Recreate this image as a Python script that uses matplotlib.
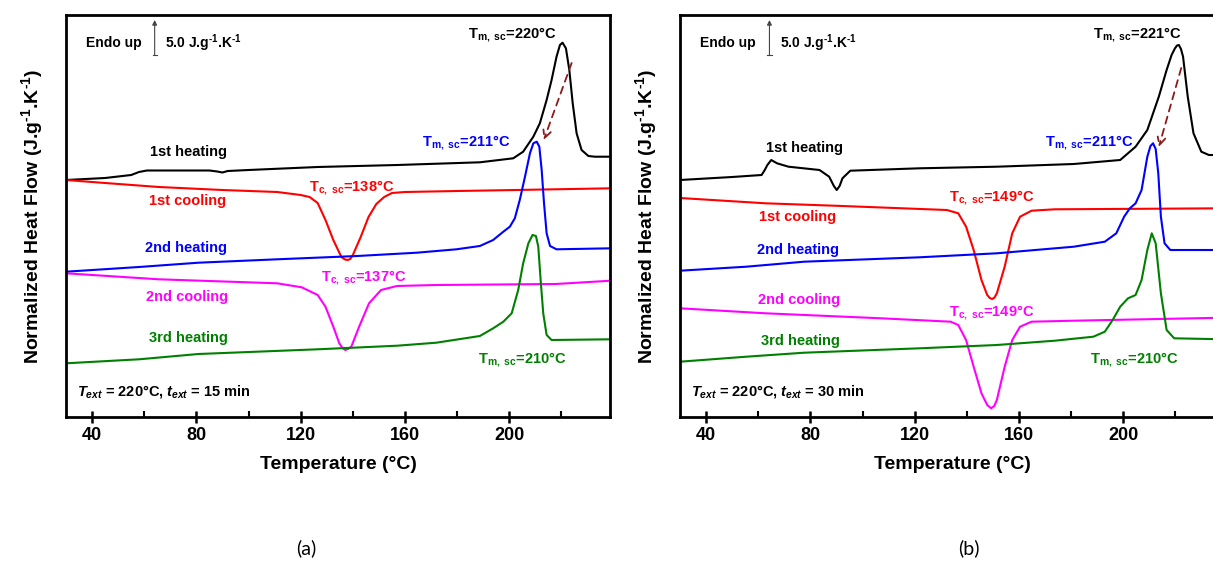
import matplotlib
matplotlib.use("Agg")
import matplotlib.pyplot as plt
from matplotlib.ticker import MultipleLocator

plt.rcParams['font.family'] = ['Liberation Sans', 'DejaVu Sans']
plt.rcParams['font.weight'] = 'bold'
plt.rcParams['mathtext.fontset'] = 'custom'
plt.rcParams['mathtext.rm'] = 'Liberation Sans:bold'
plt.rcParams['mathtext.bf'] = 'Liberation Sans:bold'
plt.rcParams['mathtext.it'] = 'Liberation Sans:italic:bold'
plt.rcParams['mathtext.default'] = 'rm'

# ---------------- data (temperature in °C, heat flow in arbitrary offset units) -------------
a_h1_T = [30, 45, 55, 58, 61, 70, 85, 88, 90, 92, 100, 126.5, 157, 188.7, 201.5, 205.3, 209.2, 211.7, 214.3,
          216.2, 218.1, 219.4, 220.4, 221.7, 223, 224.3, 225.8, 227.7, 230.3, 232.8, 239]
a_h1_y = [237, 239, 242, 245, 246.5, 246.5, 246.5, 245.5, 244.5, 246, 247, 250, 252, 254.7, 258.7, 265.3, 280.3,
          293.7, 317, 337, 360.3, 372, 374.3, 368.7, 347, 313.7, 283.7, 267, 261, 260.3, 260.3]

a_c1_T = [30, 45, 65.6, 90, 111, 120, 123.4, 126.5, 129.5, 132.5, 135.6, 137, 138, 139, 140, 143, 146, 149,
          152, 155, 160, 180, 202.5, 239]
a_c1_y = [237, 234, 230, 227, 225, 222, 220, 214, 197, 177, 160, 157.5, 157, 158, 162, 180, 200, 213,
          220, 224, 225, 226, 227, 228.7]

a_h2_T = [30, 58, 80.8, 111, 141.7, 164.5, 179.7, 188.7, 193.8, 197.7, 200.2, 202.1, 204, 206, 207.9, 209.2,
          210.5, 211.5, 212.4, 213.3, 214.3, 215.6, 218.1, 239]
a_h2_y = [145.3, 150, 154.3, 157.7, 161, 164.3, 167.7, 171, 177, 185.3, 190.3, 198.7, 217, 240.3, 263.7, 273.7,
          275.3, 270.3, 247, 213.7, 183.7, 171, 167.7, 168.7]

a_c2_T = [30, 65.6, 111, 120.4, 126.5, 129.5, 132.5, 134.8, 136, 137.1, 138.2, 139.4, 142.4, 146.2, 150.8,
          156.9, 172, 217.8, 239]
a_c2_y = [143.7, 137.7, 133.7, 129.7, 122, 110.3, 90.3, 73.7, 69, 67, 68, 70.3, 90.3, 113.7, 127,
          131, 132, 133, 136.3]

a_h3_T = [30, 58, 80.8, 126.5, 157, 172, 188.7, 193.8, 197.7, 200.9, 203.4, 205.3, 207.3, 208.9, 210.2, 211.1,
          212, 213, 214.3, 216.2, 239]
a_h3_y = [53.7, 57.7, 63, 67.7, 71.3, 74.3, 81, 88.7, 95.3, 103.7, 127, 153.7, 173.7, 182, 181, 170.3,
          137, 103.7, 82, 77, 77.7]

b_h1_T = [30, 50, 61.3, 62.5, 63.5, 65, 67.2, 71.6, 83.5, 87.2, 89, 90.1, 91.2, 92.3, 95.3, 121.9, 151.5,
          181, 198.8, 204.7, 209.2, 213.6, 216.6, 218.5, 219.8, 220.6, 221.3, 222.1, 222.9, 224.7, 226.9, 229.9,
          232.8, 235.5, 238.6]
b_h1_y = [237, 240, 242, 247, 252, 257, 253.7, 250.3, 247, 240.3, 231, 227, 231, 238.7, 246.3, 248.7, 250.3,
          253, 257, 270.3, 287, 320.3, 347, 362, 368.7, 371.5, 372, 368, 360.3, 320.3, 283.7, 265.3,
          262, 262, 262]

b_c1_T = [30, 62.8, 92.3, 132.3, 136.7, 139.7, 142.6, 145.6, 147.8, 148.8, 149.7, 150.6, 151.5, 154.5, 157.4,
          160.4, 164.8, 173.7, 238.6]
b_c1_y = [219, 213.7, 211, 207, 203.7, 190.3, 167, 137, 122, 119, 118, 119.5, 123.7, 150.3, 183.7,
          200.3, 206.3, 207.7, 208.7]

b_h2_T = [30, 55.4, 77.6, 121.9, 151.5, 181, 192.9, 197.3, 200.3, 202.5, 204.7, 207, 209.2, 210.4, 211.4,
          212.4, 213.4, 214.4, 215.8, 218, 238.6]
b_h2_y = [146.3, 150.3, 155.3, 159.7, 163.7, 170.3, 175.3, 183.7, 200.3, 208.7, 213.7, 227, 260.3, 271, 273.7,
          268, 243.7, 200.3, 173.7, 167, 167]

b_c2_T = [30, 62.8, 107.1, 133.8, 136.7, 139.7, 142.6, 145.6, 147.8, 149.3, 150.5, 151.5, 154.5, 157.4, 160.4,
          164.8, 181, 238.6]
b_c2_y = [108.7, 103.7, 98.7, 95.3, 92, 77, 50.3, 23.7, 12, 8.7, 11, 17, 50.3, 77, 90.3,
          95.3, 96.3, 99.3]

b_h3_T = [30, 55.4, 77.6, 121.9, 151.5, 173.7, 188.5, 192.9, 195.9, 198.8, 201.8, 204.7, 207, 209.2, 210.9,
          212.4, 214.4, 216.6, 219.5, 238.6]
b_h3_y = [55.3, 60.3, 64.3, 68.7, 72, 76.3, 80.3, 85.3, 97, 110.3, 118.7, 122, 137, 167, 183.7,
          173.7, 123.7, 87, 78.7, 77.7]

curve_labels = ['1st heating', '1st cooling', '2nd heating', '2nd cooling', '3rd heating']
curve_colors = ['black', '#FF0000', '#0000FF', '#FF00FF', '#008000']
x_ticks = [40, 80, 120, 160, 200]

tm1_a, tc1_a, tm2_a, tc2_a, tm3_a = 220, 138, 211, 137, 210
tm1_b, tc1_b, tm2_b, tc2_b, tm3_b = 221, 149, 211, 149, 210
text_ext_a = 15
text_ext_b = 30

W, H = 1213, 561
fig = plt.figure(figsize=(W / 100, H / 100), dpi=100)

SUP = r'$^{\text{-}1}$'


def px_axes(left, top, right, bottom):
    return fig.add_axes([left / W, 1 - bottom / H, (right - left) / W, (bottom - top) / H])


def style(ax):
    ax.set_xlim(30, 238.6)
    ax.set_ylim(0, 402)
    ax.set_xticks(x_ticks)
    ax.xaxis.set_minor_locator(MultipleLocator(20))
    ax.set_yticks([])
    ax.tick_params(axis='x', which='major', direction='inout', length=9, width=1.8,
                   labelsize=13, pad=3)
    ax.tick_params(axis='x', which='minor', direction='in', length=4, width=1.5)
    for lab in ax.get_xticklabels():
        lab.set_fontweight('bold')
    for s in ax.spines.values():
        s.set_linewidth(2.0)
    ax.set_xlabel('Temperature (°C)', fontsize=14, fontweight='bold', labelpad=8)
    ax.set_ylabel('Normalized Heat Flow (J.g' + SUP + '.K' + SUP + ')', fontsize=14,
                  fontweight='bold', labelpad=15)


def panel(ax, curves, texts, arrow, tm_pos, ext):
    style(ax)
    for (T, y), c in zip(curves, curve_colors):
        ax.plot(T, y, color=c, lw=1.5, solid_joinstyle='round')
    for (s, x, y, c) in texts:
        ax.text(x, y, s, color=c, fontsize=10.5, fontweight='bold', ha='center', va='center')
    # dashed arrow from 1st heating peak to 2nd heating peak
    (x0, y0), (x1, y1) = arrow
    ax.annotate('', xy=(x1, y1), xytext=(x0, y0),
                arrowprops=dict(arrowstyle='->', color='#8B1A1A', lw=1.3, linestyle=(0, (4, 3)),
                                shrinkA=0, shrinkB=0, mutation_scale=14))
    # endo up scale bar
    ax.text(37.5, 374, 'Endo up', fontsize=10, fontweight='bold', ha='left', va='center')
    ax.annotate('', xy=(tm_pos, 397), xytext=(tm_pos, 362),
                arrowprops=dict(arrowstyle='-|>', color='#444444', lw=0.8, mutation_scale=7,
                                shrinkA=0, shrinkB=0))
    ax.plot([tm_pos - 0.8, tm_pos + 0.8], [362, 362], color='#444444', lw=0.8)
    ax.text(tm_pos + 4, 374, '5.0 J.g' + SUP + '.K' + SUP, fontsize=10, fontweight='bold',
            ha='left', va='center')
    ax.text(34.4, 26, r'$\mathit{T_{ext}}$ = 220°C, $\mathit{t_{ext}}$ = %d min' % ext,
            fontsize=10.5, fontweight='bold', ha='left', va='center')


ax_a = px_axes(66, 15, 610, 417)
panel(ax_a,
      [(a_h1_T, a_h1_y), (a_c1_T, a_c1_y), (a_h2_T, a_h2_y), (a_c2_T, a_c2_y), (a_h3_T, a_h3_y)],
      [(curve_labels[0], 76.8, 265, 'black'),
       (curve_labels[1], 76.6, 216, '#FF0000'),
       (curve_labels[2], 75.9, 169, '#0000FF'),
       (curve_labels[3], 76.5, 120, '#FF00FF'),
       (curve_labels[4], 77.0, 79, '#008000'),
       (r'$\mathrm{T_{m,\ sc}}$=%d°C' % tm1_a, 201.3, 382, 'black'),
       (r'$\mathrm{T_{m,\ sc}}$=%d°C' % tm2_a, 183.5, 274, '#0000FF'),
       (r'$\mathrm{T_{c,\ sc}}$=%d°C' % tc1_a, 139.4, 229, '#FF0000'),
       (r'$\mathrm{T_{c,\ sc}}$=%d°C' % tc2_a, 144.0, 139, '#FF00FF'),
       (r'$\mathrm{T_{m,\ sc}}$=%d°C' % tm3_a, 205.0, 57, '#008000')],
      ((223.9, 354), (213.2, 277)), 64.0, text_ext_a)

ax_b = px_axes(680, 15, 1224, 417)
panel(ax_b,
      [(b_h1_T, b_h1_y), (b_c1_T, b_c1_y), (b_h2_T, b_h2_y), (b_c2_T, b_c2_y), (b_h3_T, b_h3_y)],
      [(curve_labels[0], 77.6, 269, 'black'),
       (curve_labels[1], 75.0, 200, '#FF0000'),
       (curve_labels[2], 75.3, 167, '#0000FF'),
       (curve_labels[3], 75.5, 117, '#FF00FF'),
       (curve_labels[4], 76.0, 76, '#008000'),
       (r'$\mathrm{T_{m,\ sc}}$=%d°C' % tm1_b, 205.5, 382, 'black'),
       (r'$\mathrm{T_{m,\ sc}}$=%d°C' % tm2_b, 187.0, 274, '#0000FF'),
       (r'$\mathrm{T_{c,\ sc}}$=%d°C' % tc1_b, 149.3, 219, '#FF0000'),
       (r'$\mathrm{T_{c,\ sc}}$=%d°C' % tc2_b, 149.3, 104, '#FF00FF'),
       (r'$\mathrm{T_{m,\ sc}}$=%d°C' % tm3_b, 204.3, 57, '#008000')],
      ((222.2, 349), (213.6, 270)), 64.3, text_ext_b)

fig.text(306 / W, 1 - 548 / H, '(a)', fontsize=14, fontweight='normal', family='Lato',
         ha='center', va='center')
fig.text(969 / W, 1 - 548 / H, '(b)', fontsize=14, fontweight='normal', family='Lato',
         ha='center', va='center')

fig.savefig('out.png', dpi=100)
